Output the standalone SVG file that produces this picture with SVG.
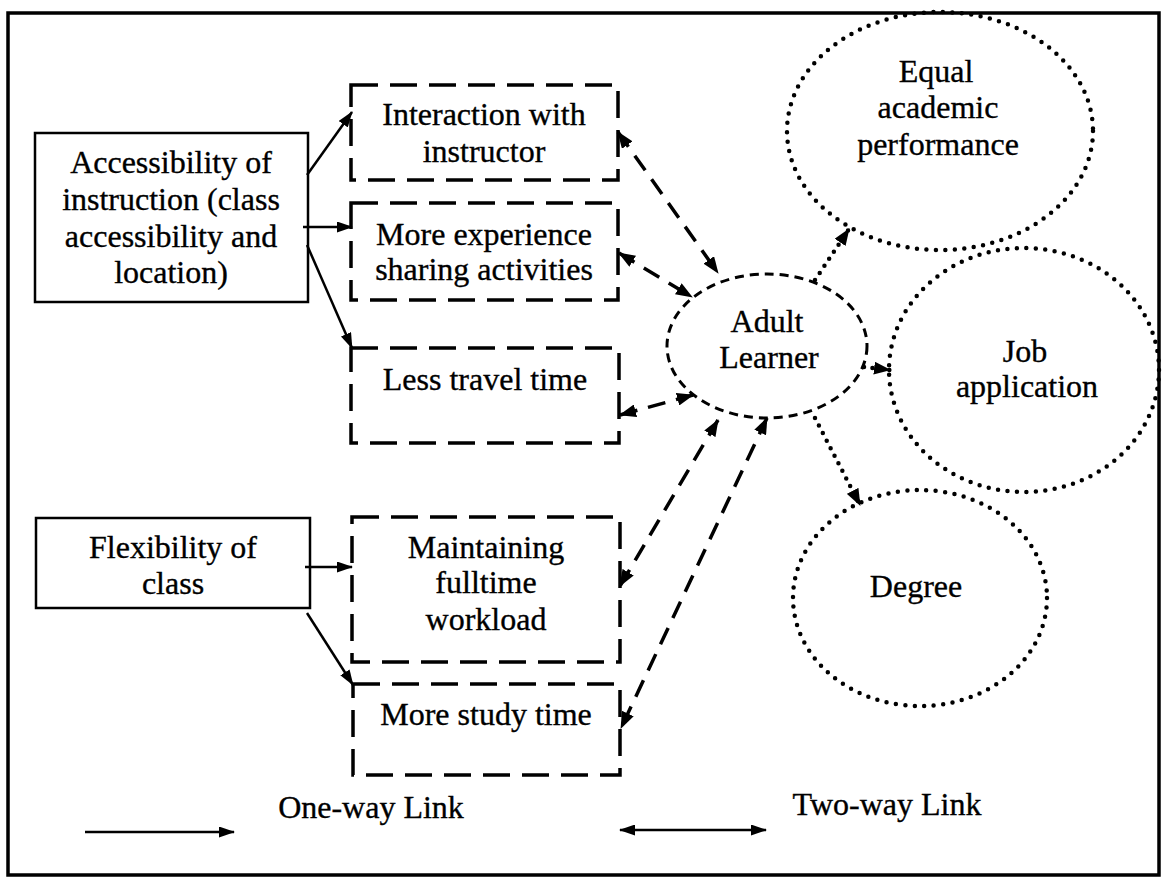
<svg xmlns="http://www.w3.org/2000/svg" width="1164" height="878" viewBox="0 0 1164 878" font-family="'Liberation Serif', 'Times New Roman', serif">
<defs>
<marker id="ah" viewBox="0 0 16 11" refX="15" refY="5.5" markerWidth="16" markerHeight="11" markerUnits="userSpaceOnUse" orient="auto-start-reverse"><path d="M0,0 L16,5.5 L0,11 z" fill="#000"/></marker>
<marker id="ahb" viewBox="0 0 17 13" refX="16" refY="6.5" markerWidth="17" markerHeight="13" markerUnits="userSpaceOnUse" orient="auto-start-reverse"><path d="M0,0 L17,6.5 L0,13 z" fill="#000"/></marker>
<style>
text{font-family:"Liberation Serif","Times New Roman",serif;font-size:32px;fill:#000;stroke:#000;stroke-width:0.35;text-anchor:middle}
.solid{fill:#fff;stroke:#000;stroke-width:2.5}
.dbox{fill:none;stroke:#000;stroke-width:3.5;stroke-dasharray:27 12}
.adult{fill:none;stroke:#000;stroke-width:3;stroke-dasharray:9 6}
.dot{fill:none;stroke:#000;stroke-width:4.5;stroke-dasharray:0 9.5;stroke-linecap:round}
.one{fill:none;stroke:#000;stroke-width:2.5;marker-end:url(#ah)}
.two{fill:none;stroke:#000;stroke-width:3.5;stroke-dasharray:18 11;marker-start:url(#ahb);marker-end:url(#ahb)}
.dotl{fill:none;stroke:#000;stroke-width:4.5;stroke-dasharray:0 8.5;stroke-linecap:round;marker-end:url(#ahb)}
</style>
</defs>
<rect x="0" y="0" width="1164" height="878" fill="#fff"/>
<rect x="8" y="13" width="1151" height="862" fill="none" stroke="#000" stroke-width="3.5"/>

<g id="accessibility">
<rect class="solid" x="35" y="133" width="273" height="169"/>
<text x="171" y="173">Accessibility of</text>
<text x="171" y="210">instruction (class</text>
<text x="171" y="247">accessibility and</text>
<text x="171" y="283">location)</text>
</g>
<g id="flexibility">
<rect class="solid" x="36" y="518" width="274" height="90"/>
<text x="173" y="558">Flexibility of</text>
<text x="173" y="594">class</text>
</g>

<g id="interaction">
<rect class="dbox" x="351" y="85" width="267" height="95"/>
<text x="484" y="125">Interaction with</text>
<text x="484" y="162">instructor</text>
</g>
<g id="experience">
<rect class="dbox" x="351" y="203" width="267" height="97"/>
<text x="484" y="245">More experience</text>
<text x="484" y="280">sharing activities</text>
</g>
<g id="travel">
<rect class="dbox" x="351" y="348" width="268" height="95"/>
<text x="485" y="390">Less travel time</text>
</g>
<g id="workload">
<rect class="dbox" x="352" y="517" width="268" height="145"/>
<text x="486" y="558">Maintaining</text>
<text x="486" y="593">fulltime</text>
<text x="486" y="630">workload</text>
</g>
<g id="study">
<rect class="dbox" x="353" y="684" width="267" height="91"/>
<text x="486" y="725">More study time</text>
</g>

<g id="adult">
<ellipse class="adult" cx="767" cy="346" rx="100" ry="72"/>
<text x="767" y="332">Adult</text>
<text x="769" y="368">Learner</text>
</g>
<g id="equal">
<ellipse class="dot" cx="940" cy="131" rx="153" ry="119"/>
<text x="936" y="82">Equal</text>
<text x="938" y="118">academic</text>
<text x="938" y="155">performance</text>
</g>
<g id="job">
<ellipse class="dot" cx="1024" cy="370" rx="135" ry="122"/>
<text x="1025" y="362">Job</text>
<text x="1027" y="397">application</text>
</g>
<g id="degree">
<ellipse class="dot" cx="920" cy="598" rx="127" ry="108"/>
<text x="916" y="597">Degree</text>
</g>

<g id="connectors">
<line class="one" x1="307" y1="175" x2="352" y2="112"/>
<line class="one" x1="303" y1="227" x2="352" y2="227"/>
<line class="one" x1="307" y1="245" x2="352" y2="348"/>
<line class="one" x1="305" y1="567" x2="352" y2="567"/>
<line class="one" x1="307" y1="613" x2="353" y2="685"/>
<line class="two" x1="618" y1="132" x2="718" y2="273"/>
<line class="two" x1="619" y1="253" x2="692" y2="297"/>
<line class="two" x1="620" y1="415" x2="693" y2="395"/>
<line class="two" x1="718" y1="420" x2="620" y2="586"/>
<line class="two" x1="767" y1="418" x2="621" y2="728"/>
<line class="dotl" x1="815" y1="280" x2="849" y2="229"/>
<line class="dotl" x1="864" y1="367" x2="890" y2="370"/>
<line class="dotl" x1="815" y1="418" x2="860" y2="505"/>
</g>

<g id="legend">
<line class="one" x1="85" y1="832" x2="234" y2="832"/>
<text x="371" y="818">One-way Link</text>
<line fill="none" stroke="#000" stroke-width="2.5" marker-start="url(#ah)" marker-end="url(#ah)" x1="620" y1="830" x2="766" y2="830"/>
<text x="887" y="815">Two-way Link</text>
</g>
</svg>
